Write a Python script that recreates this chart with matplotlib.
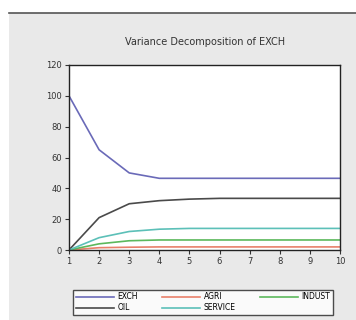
import numpy as np
import matplotlib.pyplot as plt
from matplotlib.patches import Rectangle
from matplotlib.lines import Line2D

periods = np.arange(1, 11)
exch = [100, 65, 50, 46.5, 46.5, 46.5, 46.5, 46.5, 46.5, 46.5]
agri = [0, 1.5, 1.8, 2, 2, 2, 2, 2, 2, 2]
indust = [0, 4, 6, 6.5, 6.5, 6.5, 6.5, 6.5, 6.5, 6.5]
oil = [0, 21, 30, 32, 33, 33.5, 33.5, 33.5, 33.5, 33.5]
service = [0, 8, 12, 13.5, 14, 14, 14, 14, 14, 14]

names = ["EXCH", "AGRI", "INDUST", "OIL", "SERVICE"]
series = [exch, agri, indust, oil, service]
colors = ["#6a6ab8", "#e8806a", "#5cb85c", "#4a4a4a", "#5cc0b8"]

W, H = 356, 320
fig = plt.figure(figsize=(W / 100, H / 100), dpi=100)
fig.patch.set_facecolor("white")

# gray panel behind the chart
bg = Rectangle((9 / W, 0), 1 - 9 / W, 1 - 13 / H, transform=fig.transFigure,
               facecolor="#e9e9e9", edgecolor="none", zorder=-2)
fig.patches.append(bg)
fig.add_artist(Line2D([9 / W, 1], [1 - 13 / H, 1 - 13 / H], transform=fig.transFigure,
                      color="#555555", linewidth=1.2))

left, right, top, bottom = 69, 340, 65, 250
ax = fig.add_axes([left / W, 1 - bottom / H, (right - left) / W, (bottom - top) / H])
ax.set_facecolor("white")
for name, vals, c in zip(names, series, colors):
    ax.plot(periods, vals, color=c, linewidth=1.2, label=name)

ax.set_xlim(1, 10)
ax.set_ylim(0, 120)
ax.set_xticks(periods)
ax.set_yticks(range(0, 121, 20))
ax.tick_params(labelsize=6, length=3, color="#333333", labelcolor="#333333", pad=2)
for s in ax.spines.values():
    s.set_color("#222222")
    s.set_linewidth(1.0)

fig.text(205 / W, 1 - 42 / H, "Variance Decomposition of EXCH", ha="center", va="center",
         fontsize=7, color="#333333")

# legend fills column by column, so reorder to get rows EXCH/AGRI/INDUST, OIL/SERVICE
order = [0, 3, 1, 4, 2]
handles = [Line2D([], [], color=colors[i], linewidth=1.2) for i in order]
labels = [names[i] for i in order]
leg = fig.legend(handles, labels, loc="lower left",
                 bbox_to_anchor=(73 / W, 1 - 315 / H, 260 / W, 33 / H), mode="expand",
                 ncol=3, fontsize=5.5, frameon=True, fancybox=False, handlelength=5,
                 columnspacing=1.0, handletextpad=0.5, borderpad=0.35, labelspacing=0.25,
                 edgecolor="#222222", borderaxespad=0)
leg.get_frame().set_linewidth(1.0)
leg.get_frame().set_facecolor("white")

fig.savefig("out.png", dpi=100)
